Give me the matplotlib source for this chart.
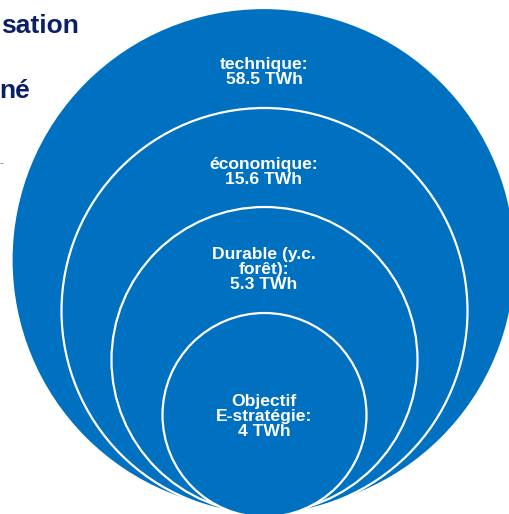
import matplotlib
matplotlib.use("Agg")
import matplotlib.pyplot as plt
from matplotlib.patches import Circle

# Data
categories = ["technique", "économique", "Durable (y.c.\nforêt)", "Objectif\nE-stratégie"]
values_twh = [58.5, 15.6, 5.3, 4]
unit = "TWh"
side_text = ["sation", "né", "-"]

# Layout (pixel coordinates)
W, H = 509, 514
fig = plt.figure(figsize=(W / 100, H / 100), dpi=100)
ax = fig.add_axes([0, 0, 1, 1])
ax.set_xlim(0, W)
ax.set_ylim(H, 0)
ax.set_aspect("equal")
ax.axis("off")

blue = "#0070C0"
navy = "#0B1F66"
font = ["Liberation Sans", "DejaVu Sans"]

circles = [  # (cx, cy, r)
    (263.5, 260, 252),
    (264.5, 311, 203),
    (264.5, 360, 153),
    (264.5, 415, 102),
]
label_y = [71.5, 172.5, 269.5, 416.5]

for (cx, cy, r) in circles:
    ax.add_patch(Circle((cx, cy), r, facecolor=blue, edgecolor="white", lw=1.6, zorder=2))

for cat, val, y in zip(categories, values_twh, label_y):
    v = f"{val:g}"
    ax.text(264, y, f"{cat}:\n{v} {unit}", ha="center", va="center",
            color="white", fontsize=12.6, fontweight="bold", family=font,
            linespacing=1.0, zorder=5)

# partially visible text on the left
ax.text(79, 26, side_text[0], ha="right", va="center", color=navy,
        fontsize=19, fontweight="bold", family=font, zorder=1)
ax.text(30, 91, side_text[1], ha="right", va="center", color=navy,
        fontsize=19, fontweight="bold", family=font, zorder=1)
ax.text(3, 163, side_text[2], ha="right", va="center", color="#5A6E9E",
        fontsize=8, family=font, zorder=1)

fig.savefig("out.png", dpi=100)
